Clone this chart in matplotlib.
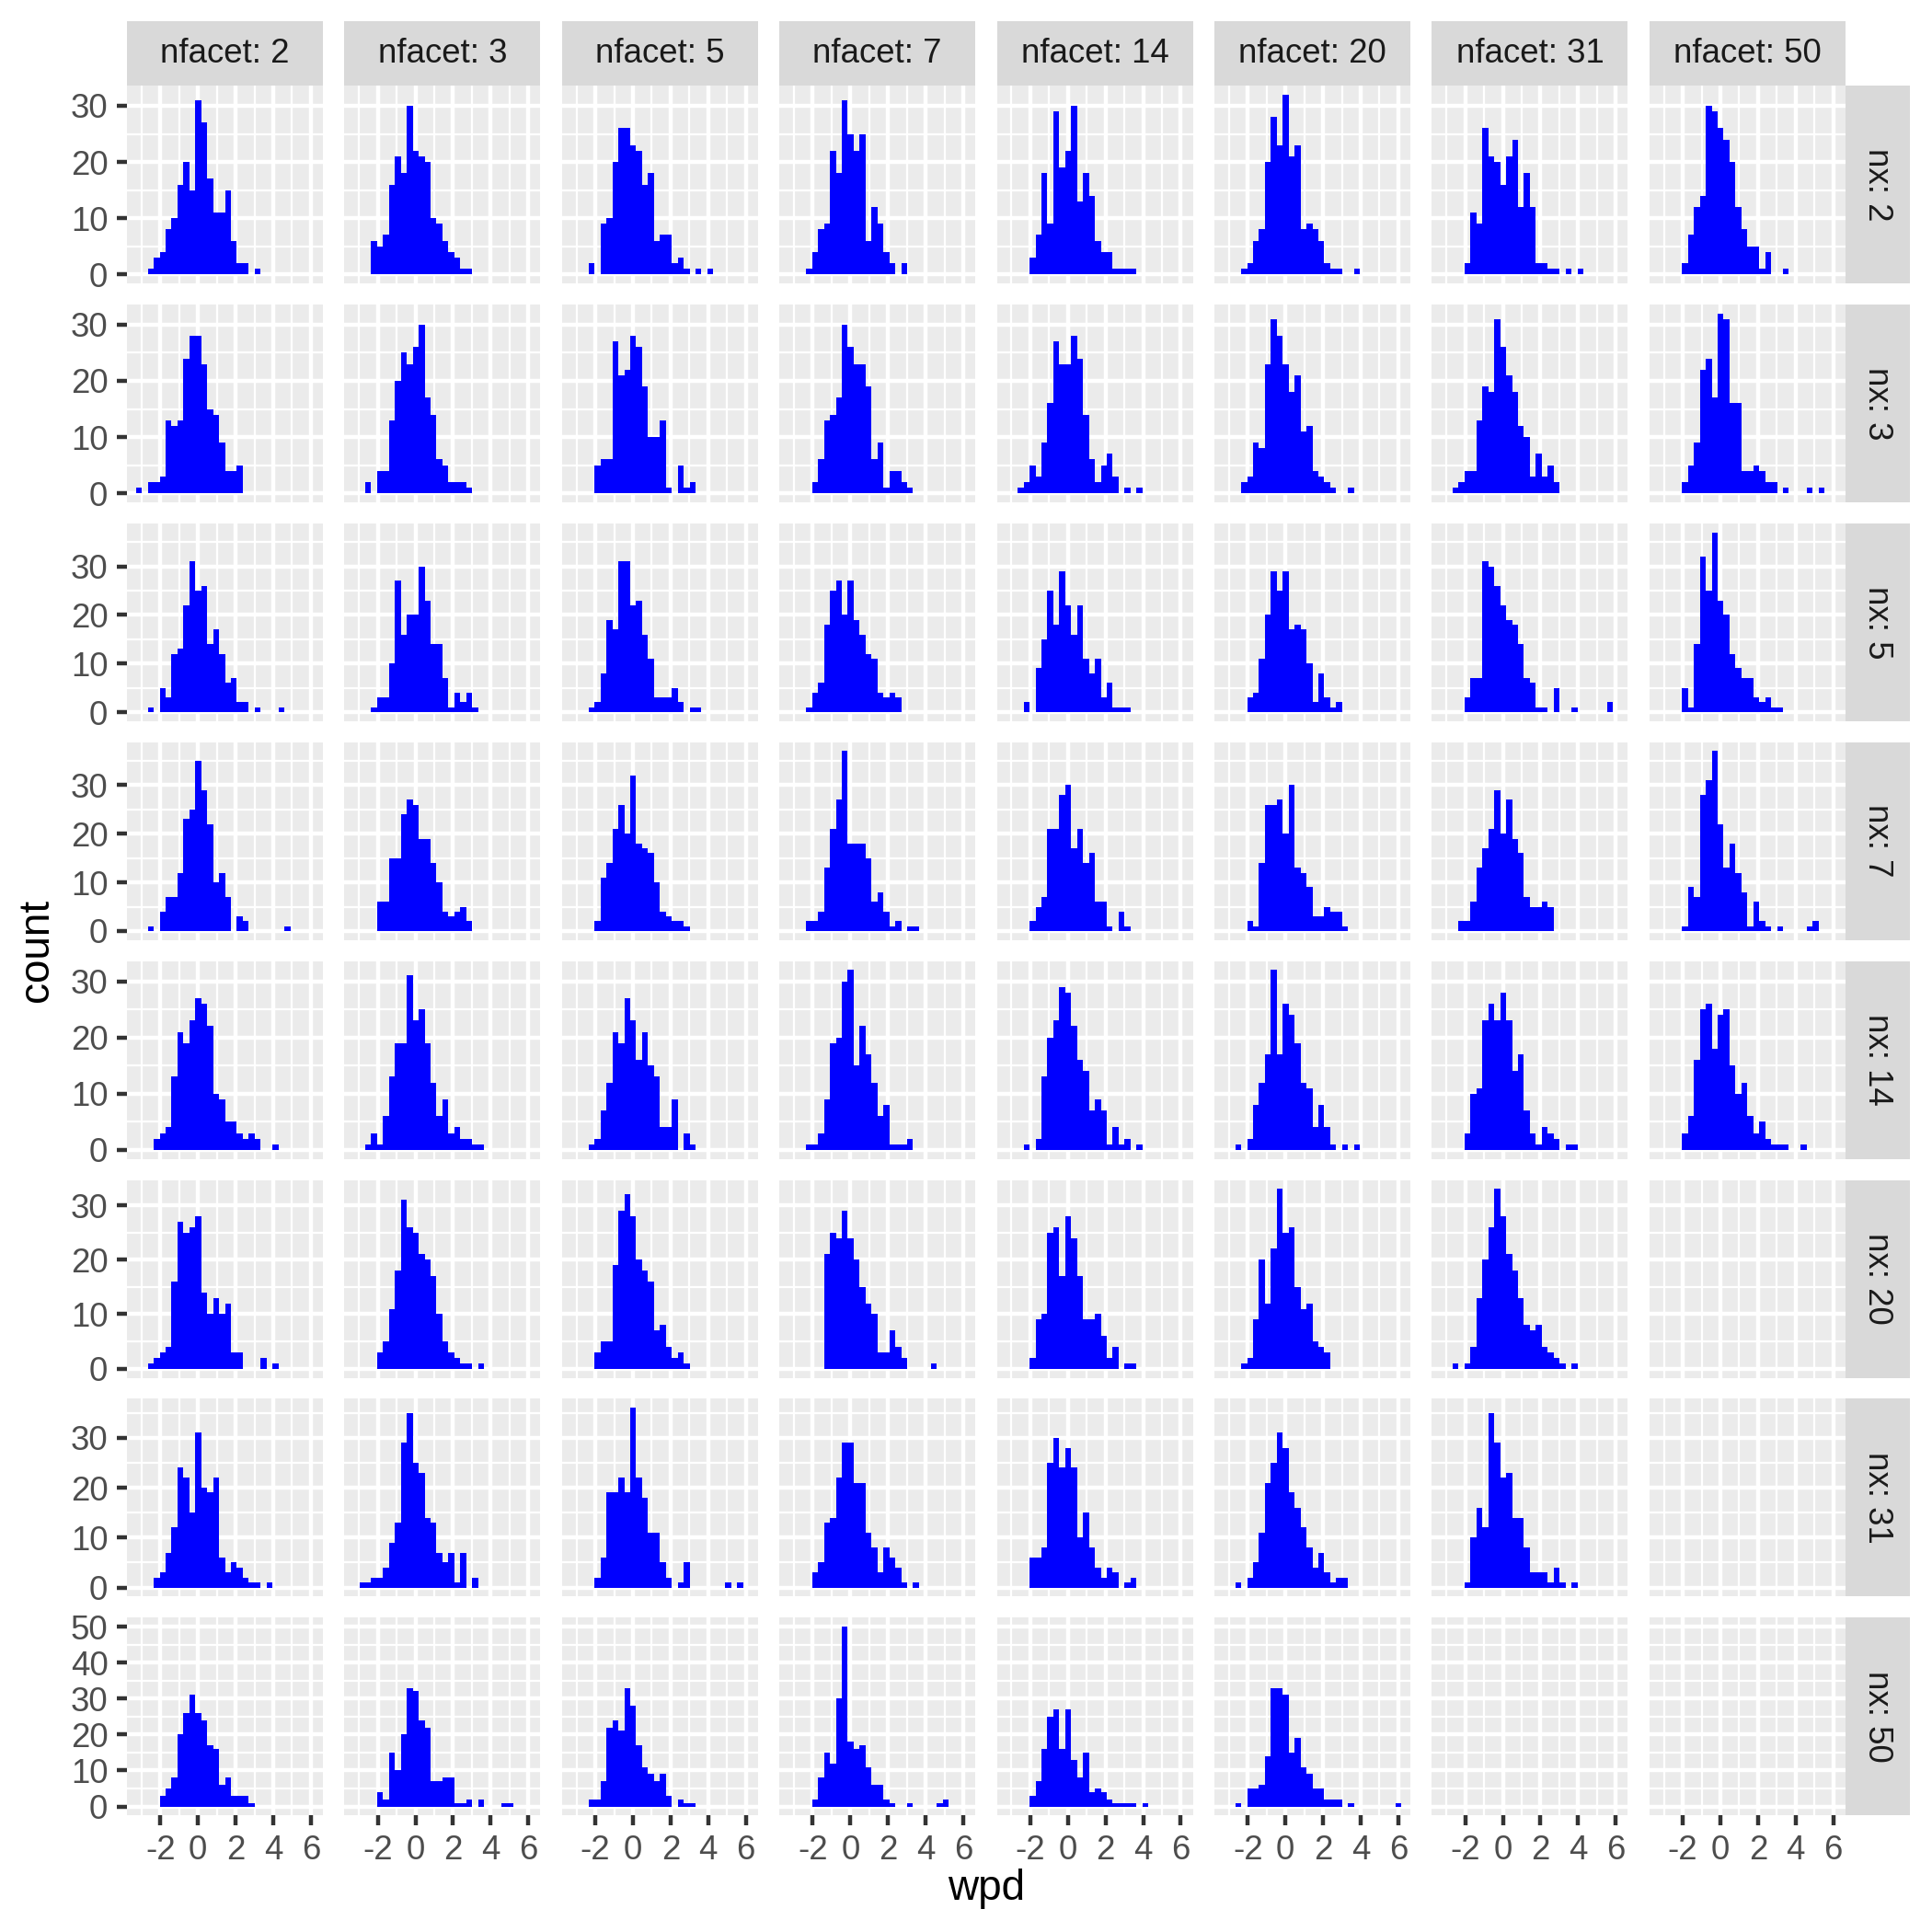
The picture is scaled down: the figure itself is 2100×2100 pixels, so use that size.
import numpy as np
import matplotlib
matplotlib.use("Agg")
import matplotlib.pyplot as plt
from matplotlib.ticker import MultipleLocator

plt.rcParams['font.family'] = ['Liberation Sans', 'DejaVu Sans']
plt.rcParams['axes.unicode_minus'] = False

# facet levels
nfacet = [2, 3, 5, 7, 14, 20, 31, 50]
nx = [2, 3, 5, 7, 14, 20, 31, 50]

# 30 histogram bins of wpd, shared by every panel
wpd_lo, wpd_hi = -3.30, 6.17
edges = np.linspace(wpd_lo, wpd_hi, 31)

# counts per bin, one list per nfacet column (None = empty panel)
counts_nx2 = [
    [0,0,1,3,4,8,10,16,20,15,31,27,17,11,11,15,6,2,2,0,1,0,0,0,0,0,0,0,0,0],
    [0,0,0,6,5,7,16,21,18,30,22,21,20,10,9,6,4,3,1,1,0,0,0,0,0,0,0,0,0,0],
    [0,0,0,2,0,9,10,20,26,26,23,22,16,18,6,7,7,2,3,1,0,1,0,1,0,0,0,0,0,0],
    [0,0,0,1,4,8,9,22,18,31,25,22,25,6,12,9,4,2,0,2,0,0,0,0,0,0,0,0,0,0],
    [0,0,0,0,3,7,18,9,29,19,22,30,13,18,14,6,4,4,1,1,1,1,0,0,0,0,0,0,0,0],
    [0,0,0,1,2,6,8,20,28,23,32,21,23,8,9,8,6,2,1,1,0,0,1,0,0,0,0,0,0,0],
    [0,0,0,0,2,11,9,26,21,20,16,21,24,12,18,12,2,2,1,1,0,1,0,1,0,0,0,0,0,0],
    [0,0,0,0,2,7,12,14,30,29,26,24,20,12,8,5,5,1,4,0,0,1,0,0,0,0,0,0,0,0],
]
counts_nx3 = [
    [1,0,2,2,3,13,12,13,24,28,28,23,15,14,9,4,4,5,0,0,0,0,0,0,0,0,0,0,0,0],
    [0,0,2,0,4,4,13,20,25,23,26,30,17,14,6,5,2,2,2,1,0,0,0,0,0,0,0,0,0,0],
    [0,0,0,0,5,6,6,27,21,22,28,26,19,10,10,13,1,0,5,1,2,0,0,0,0,0,0,0,0,0],
    [0,0,0,0,2,6,13,14,17,30,26,23,23,19,6,9,1,4,4,2,1,0,0,0,0,0,0,0,0,0],
    [0,0,1,2,5,3,9,16,27,23,23,28,24,14,6,2,5,7,3,0,1,0,1,0,0,0,0,0,0,0],
    [0,0,0,2,3,9,8,23,31,28,23,18,21,11,12,4,3,2,1,0,0,1,0,0,0,0,0,0,0,0],
    [0,0,1,2,4,4,13,19,18,31,26,21,18,12,10,3,7,3,5,2,0,0,0,0,0,0,0,0,0,0],
    [0,0,0,0,2,5,9,22,24,17,32,31,16,16,4,4,5,4,2,2,0,1,0,0,0,1,0,1,0,0],
]
counts_nx5 = [
    [0,0,1,0,5,3,12,13,22,31,25,26,14,17,12,6,7,2,2,0,1,0,0,0,1,0,0,0,0,0],
    [0,0,0,1,3,3,10,27,16,20,20,30,23,14,14,7,1,4,2,4,1,0,0,0,0,0,0,0,0,0],
    [0,0,0,1,2,8,19,17,31,31,22,23,16,11,3,3,3,5,2,0,1,1,0,0,0,0,0,0,0,0],
    [0,0,0,1,4,6,18,25,27,20,27,19,16,12,11,4,3,4,3,0,0,0,0,0,0,0,0,0,0,0],
    [0,0,0,2,0,9,15,25,18,29,22,16,22,11,8,11,3,6,1,1,1,0,0,0,0,0,0,0,0,0],
    [0,0,0,0,3,4,11,20,29,25,29,17,18,17,10,2,8,3,1,2,0,0,0,0,0,0,0,0,0,0],
    [0,0,0,0,3,7,7,31,30,26,22,19,18,14,7,6,1,1,0,5,0,0,1,0,0,0,0,0,2,0],
    [0,0,0,0,5,1,14,32,25,37,23,20,12,9,7,7,3,2,3,1,1,0,0,0,0,0,0,0,0,0],
]
counts_nx7 = [
    [0,0,1,0,4,7,7,12,23,25,35,29,22,10,12,7,0,3,2,0,0,0,0,0,0,1,0,0,0,0],
    [0,0,0,0,6,6,15,15,24,27,26,19,19,14,10,4,3,4,5,2,0,0,0,0,0,0,0,0,0,0],
    [0,0,0,0,2,11,14,21,26,20,32,18,17,16,10,4,3,2,2,1,0,0,0,0,0,0,0,0,0,0],
    [0,0,0,2,2,4,13,21,27,37,18,18,18,15,6,8,4,1,2,0,1,1,0,0,0,0,0,0,0,0],
    [0,0,0,0,2,5,7,21,21,28,30,17,21,14,16,6,6,1,0,4,1,0,0,0,0,0,0,0,0,0],
    [0,0,0,0,2,1,14,26,26,27,20,30,13,12,9,3,3,5,4,4,1,0,0,0,0,0,0,0,0,0],
    [0,0,0,2,2,6,13,17,21,29,20,27,19,16,7,5,5,6,5,0,0,0,0,0,0,0,0,0,0,0],
    [0,0,0,0,1,9,7,28,31,37,22,13,18,12,8,1,6,2,1,0,1,0,0,0,0,1,2,0,0,0],
]
counts_nx14 = [
    [0,0,0,2,3,4,13,21,19,23,27,26,22,10,9,5,5,3,2,3,2,0,0,1,0,0,0,0,0,0],
    [0,0,1,3,1,6,13,19,19,31,23,25,19,12,6,9,3,4,2,2,1,1,0,0,0,0,0,0,0,0],
    [0,0,0,1,2,7,12,21,19,27,23,16,21,15,13,4,4,9,0,3,1,0,0,0,0,0,0,0,0,0],
    [0,0,0,1,1,3,9,19,20,30,32,15,22,17,12,6,8,1,1,1,2,0,0,0,0,0,0,0,0,0],
    [0,0,0,1,0,2,13,20,23,29,28,22,16,14,7,9,7,1,4,1,2,0,1,0,0,0,0,0,0,0],
    [0,0,1,0,2,8,12,17,32,17,26,24,19,12,11,4,8,4,1,0,1,0,1,0,0,0,0,0,0,0],
    [0,0,0,0,3,10,11,23,26,23,28,23,14,17,7,3,1,4,3,2,0,1,1,0,0,0,0,0,0,0],
    [0,0,0,0,3,6,16,25,26,18,24,25,15,10,12,6,3,5,2,1,1,1,0,0,1,0,0,0,0,0],
]
counts_nx20 = [
    [0,0,1,2,3,4,16,27,25,26,28,14,10,13,10,12,3,3,0,0,0,2,0,1,0,0,0,0,0,0],
    [0,0,0,0,3,5,11,18,31,26,25,21,20,17,10,5,3,2,1,1,0,1,0,0,0,0,0,0,0,0],
    [0,0,0,0,3,5,5,19,29,32,28,20,18,16,7,8,4,2,3,1,0,0,0,0,0,0,0,0,0,0],
    [0,0,0,0,0,0,21,25,24,29,24,20,15,12,10,3,3,7,4,2,0,0,0,0,1,0,0,0,0,0],
    [0,0,0,0,2,9,10,25,26,17,28,24,17,9,9,10,6,2,4,0,1,1,0,0,0,0,0,0,0,0],
    [0,0,0,1,2,9,20,12,22,33,25,26,15,11,12,5,4,3,0,0,0,0,0,0,0,0,0,0,0,0],
    [0,0,1,0,1,4,13,20,26,33,28,21,18,13,8,7,8,4,3,2,1,0,1,0,0,0,0,0,0,0],
    None,
]
counts_nx31 = [
    [0,0,0,2,3,7,12,24,22,15,31,20,19,22,6,3,5,4,2,1,1,0,1,0,0,0,0,0,0,0],
    [0,1,1,2,2,4,9,13,29,35,25,23,14,13,7,5,7,1,7,0,2,0,0,0,0,0,0,0,0,0],
    [0,0,0,0,2,6,19,19,22,19,36,22,18,11,11,5,2,0,1,5,0,0,0,0,0,0,1,0,1,0],
    [0,0,0,0,3,5,13,14,22,29,29,21,21,11,8,3,8,6,4,1,0,1,0,0,0,0,0,0,0,0],
    [0,0,0,0,6,6,8,25,30,24,28,24,10,15,8,4,2,4,3,0,1,2,0,0,0,0,0,0,0,0],
    [0,0,1,0,2,5,11,21,25,31,28,19,16,12,8,4,7,3,1,2,2,0,0,0,0,0,0,0,0,0],
    [0,0,0,0,1,10,16,12,35,29,22,23,14,14,8,3,3,3,1,4,1,0,1,0,0,0,0,0,0,0],
    None,
]
counts_nx50 = [
    [0,0,0,0,3,5,8,20,26,31,26,24,17,16,6,8,3,3,3,1,0,0,0,0,0,0,0,0,0,0],
    [0,0,0,0,4,2,15,10,20,33,32,24,22,7,7,8,8,1,1,2,0,2,0,0,0,1,1,0,0,0],
    [0,0,0,2,2,7,22,24,21,33,28,17,11,9,7,9,3,0,2,1,1,0,0,0,0,0,0,0,0,0],
    [0,0,0,0,2,8,15,12,30,50,18,16,17,11,6,6,2,1,0,0,1,0,0,0,0,1,2,0,0,0],
    [0,0,0,0,3,7,16,25,27,16,27,13,8,15,4,5,4,2,1,1,1,1,0,1,0,0,0,0,0,0],
    [0,0,1,0,5,5,6,14,33,33,31,15,19,11,9,5,5,2,2,2,0,1,0,0,0,0,0,0,0,1],
    None,
    None,
]
rows = [counts_nx2, counts_nx3, counts_nx5, counts_nx7,
        counts_nx14, counts_nx20, counts_nx31, counts_nx50]

# ggplot-ish look
panel_bg = '#EBEBEB'
strip_bg = '#D9D9D9'
bar_col = '#0000FF'

W = H = 2100
fig = plt.figure(figsize=(7, 7), dpi=300)

def box(x, y, w, h):
    return [x / W, 1 - (y + h) / H, w / W, h / H]

px0, pdx, pw = 138, 236.4, 213
py0, pdy, ph = 93, 237.9, 215
sw = 70

span = wpd_hi - wpd_lo
xlim = (wpd_lo - 0.05 * span, wpd_hi + 0.05 * span)

for i, row in enumerate(rows):
    ymax = max(max(c) for c in row if c is not None)
    for j, counts in enumerate(row):
        x = px0 + j * pdx
        y = py0 + i * pdy
        ax = fig.add_axes(box(x, y, pw, ph))
        ax.set_facecolor(panel_bg)
        ax.set_axisbelow(True)
        if counts is not None:
            ax.stairs(counts, edges, fill=True, color=bar_col, lw=0)
        ax.set_xlim(*xlim)
        ax.set_ylim(-0.05 * ymax, 1.05 * ymax)
        ax.xaxis.set_major_locator(MultipleLocator(2))
        ax.xaxis.set_minor_locator(MultipleLocator(1))
        ax.yaxis.set_major_locator(MultipleLocator(10))
        ax.yaxis.set_minor_locator(MultipleLocator(5))
        ax.grid(which='major', color='white', lw=1.07)
        ax.grid(which='minor', color='white', lw=0.53)
        for s in ax.spines.values():
            s.set_visible(False)
        ax.tick_params(which='minor', length=0)
        ax.tick_params(which='major', length=2.75, width=1.07, color='#333333',
                       labelsize=8.8, labelcolor='#4D4D4D', pad=2.2)
        if j > 0:
            ax.tick_params(axis='y', length=0, labelleft=False)
        if i < len(rows) - 1:
            ax.tick_params(axis='x', length=0, labelbottom=False)

        if i == 0:
            sax = fig.add_axes(box(x, y - sw, pw, sw))
            sax.set_facecolor(strip_bg)
            sax.set_xticks([]); sax.set_yticks([])
            for s in sax.spines.values():
                s.set_visible(False)
            sax.text(0.5, 0.5, f'nfacet: {nfacet[j]}', ha='center', va='center',
                     fontsize=8.8, color='#1A1A1A', transform=sax.transAxes)
        if j == len(row) - 1:
            sax = fig.add_axes(box(x + pw, y, sw, ph))
            sax.set_facecolor(strip_bg)
            sax.set_xticks([]); sax.set_yticks([])
            for s in sax.spines.values():
                s.set_visible(False)
            sax.text(0.5, 0.5, f'nx: {nx[i]}', ha='center', va='center',
                     rotation=-90, fontsize=8.8, color='#1A1A1A',
                     transform=sax.transAxes)

fig.text(40 / W, 1 - 1033 / H, 'count', rotation=90, fontsize=11,
         ha='center', va='center')
fig.text(1072 / W, 1 - 2053 / H, 'wpd', fontsize=11, ha='center', va='center')

fig.savefig('out.png', dpi=300)
